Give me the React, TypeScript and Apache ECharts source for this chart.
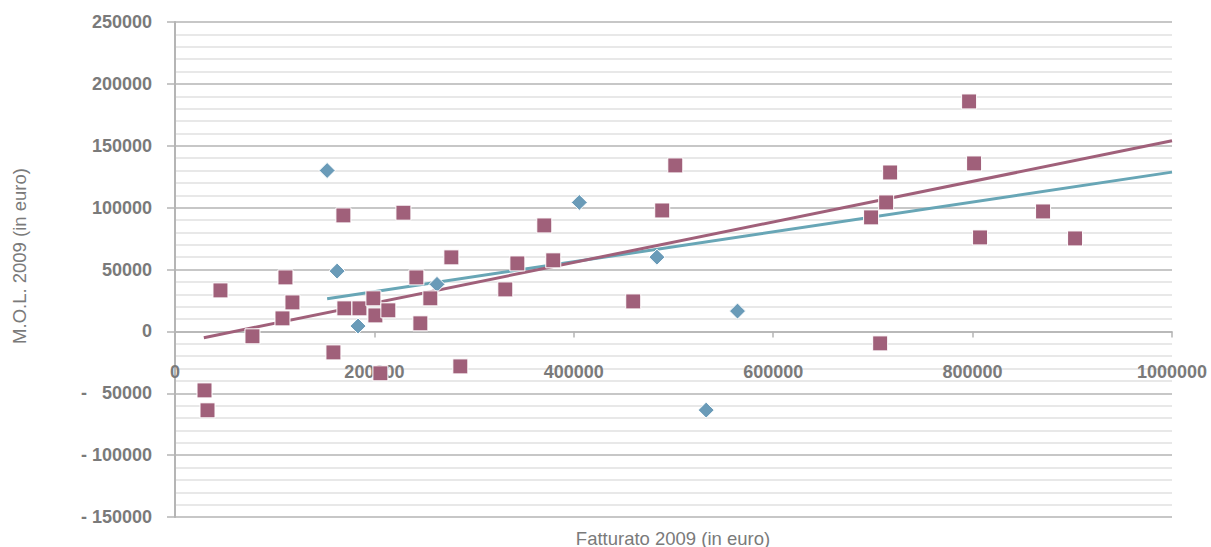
import React, { useEffect, useRef } from "react";
import * as echarts from "echarts";

// Fatturato (x) and M.O.L. (y) for the two groups of companies, 2009, in euro
const blueX = [152600, 162600, 183600, 262800, 405500, 483400, 564200, 532800];
const blueY = [130000, 48700, 4300, 38000, 104200, 60000, 16400, -63600];

const mauveX = [
  29600, 32600, 45600, 77700, 107800, 110800, 117800, 158900, 168900, 169900,
  185000, 199000, 201000, 206000, 214000, 229100, 242100, 246100, 256100, 277200,
  286200, 331300, 343400, 370400, 379400, 459600, 488700, 501800, 698200, 707300,
  713300, 717300, 796500, 801500, 807500, 870700, 902800,
];
const mauveY = [
  -47700, -63800, 33100, -4000, 10500, 43600, 23400, -17000, 93700, 18600,
  18600, 26700, 12900, -33900, 17000, 95900, 43600, 6500, 26700, 59800,
  -28300, 33900, 54900, 85600, 57400, 24200, 97700, 134100, 92100, -9700,
  104200, 128400, 185800, 135700, 75900, 96900, 75100,
];

// Linear trend lines: start and end points
const blueTrendX = [152600, 1000000];
const blueTrendY = [26400, 128700];
const mauveTrendX = [28900, 1000000];
const mauveTrendY = [-5100, 154000];

// Axis ranges and tick labels
const xTicks = [0, 200000, 400000, 600000, 800000, 1000000];
const yTickLabels: Record<string, string> = {
  "-150000": "- 150000",
  "-100000": "- 100000",
  "-50000": "-   50000",
};

const zip = (xs: number[], ys: number[]) => xs.map((x, i) => [x, ys[i]]);

const LABEL = "#7a7a7a";
const MAJOR = "#b5b5b5";
const MINOR = "#e0e0e0";
const FONT = "'Liberation Sans', Arial, Helvetica, sans-serif";

export default function App() {
  const ref = useRef<HTMLDivElement>(null);

  useEffect(() => {
    document.body.style.margin = "0";
    if (!ref.current) return;
    const chart = echarts.init(ref.current, undefined, { renderer: "svg" });
    chart.setOption({
      animation: false,
      backgroundColor: "#ffffff",
      textStyle: { fontFamily: FONT },
      grid: {
        left: 175,
        right: 39,
        top: 22,
        bottom: 30,
        containLabel: false,
        outerBoundsMode: "none",
      },
      xAxis: {
        type: "value",
        min: xTicks[0],
        max: xTicks[xTicks.length - 1],
        interval: 200000,
        axisLine: { onZero: true, lineStyle: { color: MAJOR, width: 1.5 } },
        axisTick: { show: true, inside: false, length: 6, lineStyle: { color: MAJOR, width: 1.5 } },
        axisLabel: {
          color: LABEL,
          fontSize: 18,
          fontWeight: "bold",
          fontFamily: FONT,
          margin: -154,
          formatter: (v: number) => String(v),
        },
        splitLine: { show: false },
      },
      yAxis: {
        type: "value",
        min: -150000,
        max: 250000,
        interval: 50000,
        axisLine: { show: true, onZero: false, lineStyle: { color: MAJOR, width: 2 } },
        axisTick: { show: true, inside: false, length: 8, lineStyle: { color: MAJOR, width: 1.5 } },
        axisLabel: {
          color: LABEL,
          fontSize: 18,
          fontWeight: "bold",
          fontFamily: FONT,
          margin: 23,
          formatter: (v: number) => yTickLabels[String(v)] ?? String(v),
        },
        splitLine: { show: true, lineStyle: { color: MAJOR, width: 1.5 } },
        minorTick: { show: false, splitNumber: 5 },
        minorSplitLine: { show: true, lineStyle: { color: MINOR, width: 1.5 } },
      },
      graphic: [
        {
          type: "text",
          x: 19,
          y: 256,
          rotation: Math.PI / 2,
          style: {
            text: "M.O.L. 2009 (in euro)",
            fill: LABEL,
            fontSize: 18.5,
            fontFamily: FONT,
            align: "center",
            verticalAlign: "middle",
          },
        },
        {
          type: "text",
          x: 673,
          y: 538,
          style: {
            text: "Fatturato 2009 (in euro)",
            fill: LABEL,
            fontSize: 18.5,
            fontFamily: FONT,
            align: "center",
            verticalAlign: "middle",
          },
        },
      ],
      series: [
        {
          type: "line",
          data: zip(blueTrendX, blueTrendY),
          symbol: "none",
          lineStyle: { color: "#68a6b6", width: 3 },
          z: 3,
          silent: true,
        },
        {
          type: "line",
          data: zip(mauveTrendX, mauveTrendY),
          symbol: "none",
          lineStyle: { color: "#a0607a", width: 3 },
          z: 3,
          silent: true,
        },
        {
          type: "scatter",
          data: zip(blueX, blueY),
          symbol: "diamond",
          symbolSize: 16,
          itemStyle: { color: "#6a9bb8", borderColor: "#ffffff", borderWidth: 1, opacity: 1 },
          z: 5,
        },
        {
          type: "scatter",
          data: zip(mauveX, mauveY),
          symbol: "rect",
          symbolSize: 15,
          itemStyle: { color: "#a0607a", borderColor: "#ffffff", borderWidth: 1, opacity: 1 },
          z: 5,
        },
      ],
    });
    return () => chart.dispose();
  }, []);

  return <div ref={ref} style={{ width: 1211, height: 547 }} />;
}
